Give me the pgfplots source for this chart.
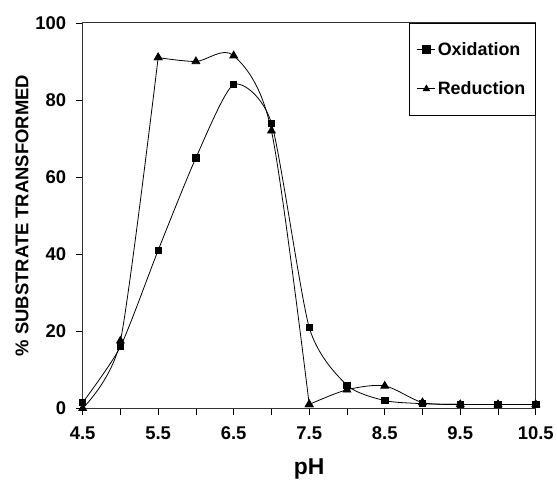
\documentclass[border=0pt]{standalone}
\usepackage{fontspec}
\setmainfont{Liberation Sans}
\usepackage{pgfplots}
\pgfplotsset{compat=1.18}

\begin{document}
\begin{tikzpicture}
\begin{axis}[
    scale only axis,
    width=455pt, height=387pt,
    xmin=4.5, xmax=10.5,
    ymin=0, ymax=100,
    xtick={4.5,5,...,10.5},
    xticklabels={4.5,,5.5,,6.5,,7.5,,8.5,,9.5,,10.5},
    ytick={0,20,...,100},
    tick pos=left,
    tick align=outside,
    major tick length=7pt,
    tick style={black, line width=0.8pt},
    axis line style={line width=1pt, black!80},
    /pgf/number format/assume math mode=true,
    ticklabel style={font=\fontsize{18.5}{20}\selectfont\bfseries},
    xticklabel style={yshift=-8pt},
    yticklabel style={xshift=-6pt},
    xlabel={pH},
    xlabel style={font=\fontsize{23}{26}\selectfont\bfseries, yshift=-12pt},
    ylabel={\% SUBSTRATE TRANSFORMED},
    ylabel style={font=\fontsize{18.5}{20}\selectfont\bfseries, yshift=0pt},
    legend style={at={(1,1)}, anchor=north east,
        font=\fontsize{18}{21}\selectfont\bfseries,
        draw=black, line width=0.8pt,
        inner xsep=8pt, inner ysep=17pt,
        row sep=21pt,
        legend cell align=left},
    legend image code/.code={
        \draw[mark repeat=2, mark phase=2, #1, mark size=3.6pt] plot coordinates {(0pt,0pt) (9pt,0pt) (18pt,0pt)};
    },
    clip=false,
]
\addplot[black, line width=0.8pt, smooth, tension=0.4, mark=square*, mark size=3.2pt]
coordinates {(4.5,1.5) (5,16) (5.5,41) (6,65) (6.5,84) (7,74) (7.5,21) (8,6) (8.5,2) (9,1.2) (9.5,1) (10,1) (10.5,1)};
\addlegendentry{Oxidation}
\addplot[black, line width=0.8pt, smooth, tension=0.4, mark=triangle*, mark size=4.5pt]
coordinates {(4.5,0) (5,17.5) (5.5,91)};
\addlegendentry{Reduction}
\addplot[black, line width=0.8pt, smooth, tension=0.5, mark=triangle*, mark size=4.5pt, forget plot]
coordinates {(5.5,91) (6,90) (6.5,91.5) (7,72) (7.5,1)};
\addplot[black, line width=0.8pt, smooth, tension=0.5, mark=triangle*, mark size=4.5pt, forget plot]
coordinates {(7.5,1) (8,4.8) (8.5,5.8) (9,1.5) (9.5,1) (10,1) (10.5,1)};
\end{axis}
\path ([shift={(-83pt,-74pt)}]current axis.south west) rectangle ([shift={(19pt,23pt)}]current axis.north east);
\end{tikzpicture}
\end{document}
